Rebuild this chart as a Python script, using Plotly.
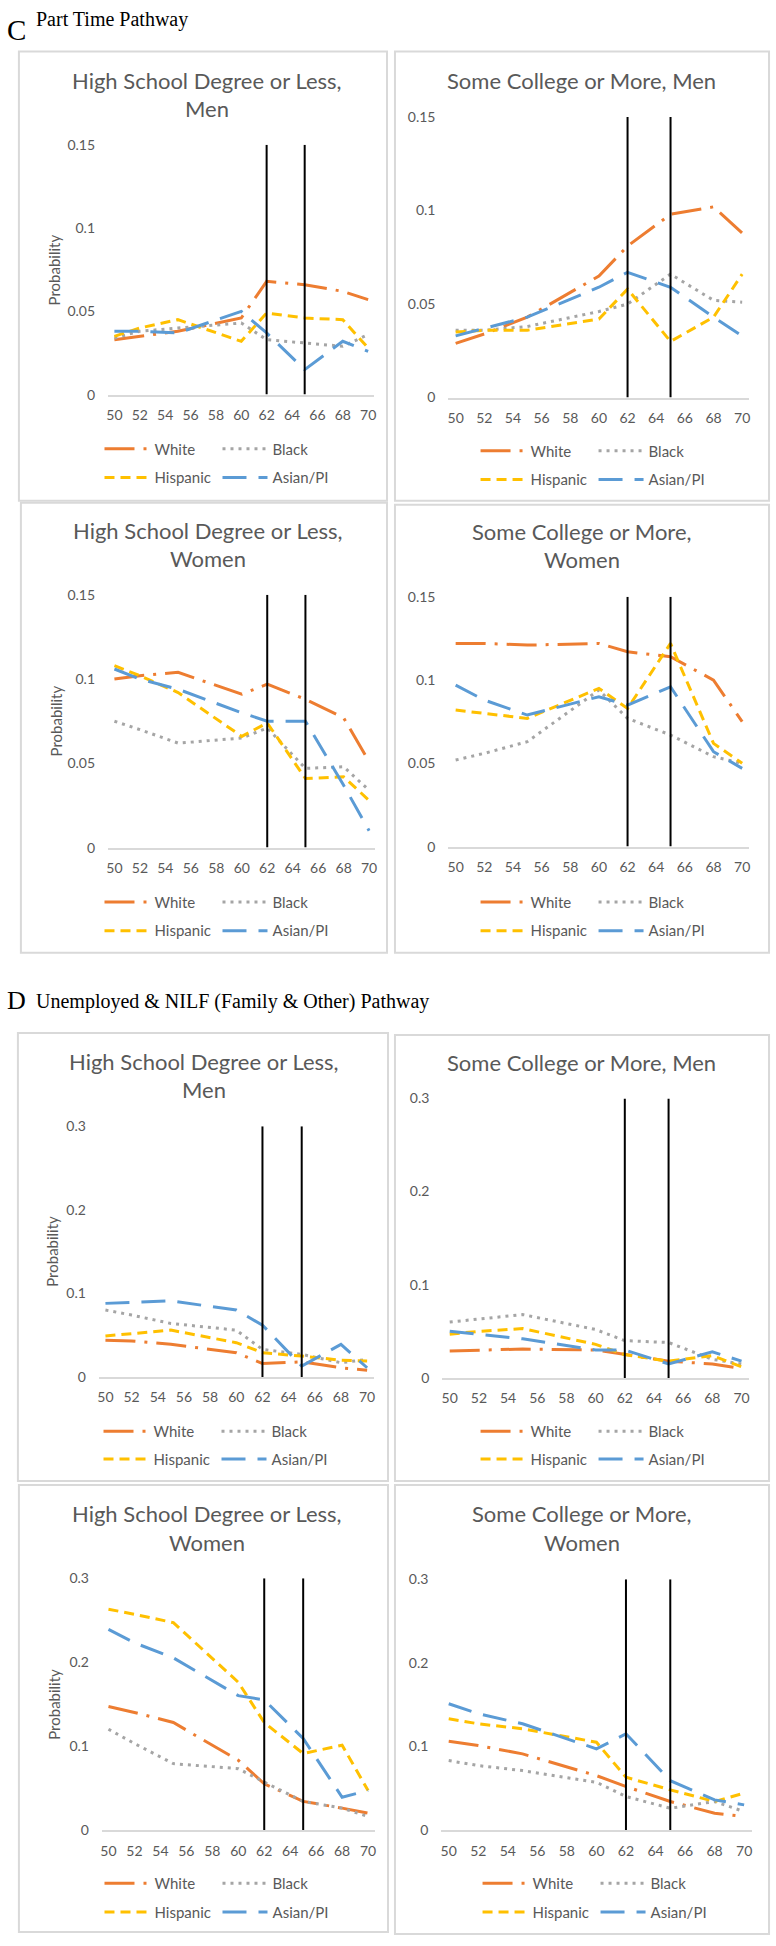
import plotly.graph_objects as go

# Ages at which the probabilities were estimated
ages = [50, 52, 55, 60, 62, 65, 68, 70]
races = ["White", "Black", "Hispanic", "Asian/PI"]
reference_ages = [62, 65]

# C: Part Time Pathway
c_hs_men = {
    "White": [0.033, 0.035, 0.038, 0.046, 0.068, 0.066, 0.062, 0.057],
    "Black": [0.034, 0.038, 0.040, 0.043, 0.033, 0.031, 0.029, 0.036],
    "Hispanic": [0.035, 0.040, 0.045, 0.032, 0.049, 0.046, 0.045, 0.028],
    "Asian/PI": [0.038, 0.038, 0.037, 0.050, 0.037, 0.015, 0.032, 0.026],
}
c_sc_men = {
    "White": [0.029, 0.034, 0.043, 0.065, 0.081, 0.098, 0.102, 0.088],
    "Black": [0.036, 0.036, 0.038, 0.046, 0.050, 0.066, 0.052, 0.051],
    "Hispanic": [0.035, 0.036, 0.036, 0.042, 0.058, 0.030, 0.043, 0.066],
    "Asian/PI": [0.033, 0.037, 0.043, 0.059, 0.067, 0.059, 0.043, 0.033],
}
c_hs_women = {
    "White": [0.100, 0.102, 0.104, 0.091, 0.097, 0.088, 0.077, 0.051],
    "Black": [0.075, 0.070, 0.062, 0.065, 0.071, 0.047, 0.048, 0.034],
    "Hispanic": [0.108, 0.102, 0.092, 0.066, 0.074, 0.041, 0.042, 0.028],
    "Asian/PI": [0.106, 0.100, 0.094, 0.080, 0.075, 0.075, 0.037, 0.010],
}
c_sc_women = {
    "White": [0.122, 0.122, 0.121, 0.122, 0.117, 0.114, 0.100, 0.075],
    "Black": [0.052, 0.056, 0.063, 0.094, 0.077, 0.067, 0.054, 0.050],
    "Hispanic": [0.082, 0.080, 0.077, 0.095, 0.083, 0.122, 0.062, 0.050],
    "Asian/PI": [0.097, 0.088, 0.079, 0.090, 0.085, 0.096, 0.057, 0.047],
}

# D: Unemployed & NILF (Family & Other) Pathway
d_hs_men = {
    "White": [0.044, 0.043, 0.039, 0.029, 0.016, 0.018, 0.011, 0.008],
    "Black": [0.080, 0.074, 0.064, 0.056, 0.033, 0.027, 0.017, 0.021],
    "Hispanic": [0.049, 0.052, 0.056, 0.041, 0.029, 0.025, 0.020, 0.019],
    "Asian/PI": [0.088, 0.089, 0.091, 0.080, 0.062, 0.013, 0.039, 0.011],
}
d_sc_men = {
    "White": [0.029, 0.030, 0.031, 0.030, 0.025, 0.018, 0.015, 0.010],
    "Black": [0.060, 0.063, 0.068, 0.052, 0.040, 0.038, 0.020, 0.015],
    "Hispanic": [0.047, 0.050, 0.053, 0.036, 0.025, 0.018, 0.024, 0.012],
    "Asian/PI": [0.050, 0.047, 0.042, 0.030, 0.030, 0.015, 0.028, 0.018],
}
d_hs_women = {
    "White": [0.147, 0.140, 0.128, 0.083, 0.055, 0.034, 0.026, 0.020],
    "Black": [0.120, 0.103, 0.079, 0.073, 0.057, 0.034, 0.026, 0.016],
    "Hispanic": [0.263, 0.257, 0.247, 0.176, 0.128, 0.091, 0.101, 0.047],
    "Asian/PI": [0.239, 0.223, 0.205, 0.160, 0.155, 0.109, 0.039, 0.047],
}
d_sc_women = {
    "White": [0.106, 0.101, 0.091, 0.065, 0.052, 0.034, 0.020, 0.016],
    "Black": [0.083, 0.077, 0.071, 0.057, 0.040, 0.026, 0.034, 0.022],
    "Hispanic": [0.133, 0.127, 0.121, 0.105, 0.063, 0.048, 0.034, 0.044],
    "Asian/PI": [0.151, 0.139, 0.127, 0.097, 0.115, 0.059, 0.036, 0.030],
}

W, H = 776, 1946
TEXT = "#595959"
BORDER = "#D9D9D9"
FONT = "Lato, 'Open Sans', sans-serif"
SERIF = "'Liberation Serif', 'DejaVu Serif', serif"


def fx(p):
    return p / W


def fy(p):
    return 1 - p / H


styles = {
    "White": dict(color="#ED7D31", dash="30px,9px,3px,9px"),
    "Black": dict(color="#A5A5A5", dash="3px,5px"),
    "Hispanic": dict(color="#FFC000", dash="10px,6px"),
    "Asian/PI": dict(color="#5B9BD5", dash="24px,12px"),
}

# layout of each panel in page pixels: box, plot area (l, t, r, b), titles, legend rows
panels = [
    dict(data=c_hs_men, ymax=0.15, dtick=0.05,
         title=["High School Degree or Less,", "Men"], title_y=[72, 100], title_x=206,
         box=(17, 43, 387, 496), plot=(106.6, 137, 374.4, 389),
         leg_x=103, leg_y=(444, 473), ylab=(52, 263)),
    dict(data=c_sc_men, ymax=0.15, dtick=0.05,
         title=["Some College or More, Men"], title_y=[72], title_x=583,
         box=(395, 43, 771, 496), plot=(448.8, 109, 751.2, 392),
         leg_x=481, leg_y=(446, 475), ylab=None),
    dict(data=c_hs_women, ymax=0.15, dtick=0.05,
         title=["High School Degree or Less,", "Women"], title_y=[526, 554], title_x=207,
         box=(19, 498, 387, 952), plot=(106.6, 591, 375.4, 846),
         leg_x=103, leg_y=(901, 930), ylab=(54, 718)),
    dict(data=c_sc_women, ymax=0.15, dtick=0.05,
         title=["Some College or More,", "Women"], title_y=[527, 555], title_x=583,
         box=(395, 500, 771, 952), plot=(448.8, 593, 751.2, 845),
         leg_x=481, leg_y=(901, 930), ylab=None),
    dict(data=d_hs_men, ymax=0.3, dtick=0.1,
         title=["High School Degree or Less,", "Men"], title_y=[1062, 1090], title_x=203,
         box=(16, 1033, 388, 1485), plot=(97.4, 1127, 373.6, 1380),
         leg_x=102, leg_y=(1435, 1463), ylab=(50, 1253)),
    dict(data=d_sc_men, ymax=0.3, dtick=0.1,
         title=["Some College or More, Men"], title_y=[1063], title_x=583,
         box=(395, 1035, 771, 1485), plot=(442.7, 1099, 750.7, 1381),
         leg_x=481, leg_y=(1435, 1463), ylab=None),
    dict(data=d_hs_women, ymax=0.3, dtick=0.1,
         title=["High School Degree or Less,", "Women"], title_y=[1518, 1547], title_x=206,
         box=(17, 1489, 388, 1940), plot=(100.5, 1583, 374.5, 1837),
         leg_x=103, leg_y=(1891, 1920), ylab=(52, 1710)),
    dict(data=d_sc_women, ymax=0.3, dtick=0.1,
         title=["Some College or More,", "Women"], title_y=[1518, 1547], title_x=583,
         box=(395, 1489, 771, 1942), plot=(441.6, 1584, 753.4, 1837),
         leg_x=483, leg_y=(1891, 1920), ylab=None),
]

fig = go.Figure()
shapes = []
annotations = []
layout = {}

for i, p in enumerate(panels, start=1):
    sfx = "" if i == 1 else str(i)
    xa, ya = "x" + sfx, "y" + sfx
    leg_top = "legend" if i == 1 else f"legend{2 * i - 1}"
    leg_bot = f"legend{2 * i}"

    for race in races:
        st = styles[race]
        fig.add_trace(go.Scatter(
            x=ages, y=p["data"][race], mode="lines", name=race,
            line=dict(color=st["color"], dash=st["dash"], width=3),
            xaxis=xa, yaxis=ya,
            legend=leg_top if race in ("White", "Black") else leg_bot,
            hoverinfo="skip",
        ))

    l, t, r, b = p["plot"]
    layout["xaxis" + sfx] = dict(
        domain=[fx(l), fx(r)], range=[49.5, 70.5], anchor=ya,
        tickmode="linear", tick0=50, dtick=2,
        showgrid=False, zeroline=False, showline=True,
        linecolor=BORDER, linewidth=1.5, ticks="",
        tickfont=dict(size=14, color=TEXT), ticklabelstandoff=7,
    )
    layout["yaxis" + sfx] = dict(
        domain=[fy(b), fy(t)], range=[0, p["ymax"]], anchor=xa,
        tickmode="linear", tick0=0, dtick=p["dtick"],
        showgrid=False, zeroline=False, showline=False, ticks="",
        tickfont=dict(size=14, color=TEXT), ticklabelstandoff=12,
    )

    for age in reference_ages:
        shapes.append(dict(type="line", xref=xa, yref=ya, x0=age, x1=age,
                           y0=0, y1=p["ymax"], line=dict(color="black", width=2)))

    bl, bt, br, bb = p["box"]
    shapes.append(dict(type="rect", xref="paper", yref="paper",
                       x0=fx(bl), x1=fx(br), y0=fy(bb), y1=fy(bt),
                       line=dict(color=BORDER, width=2), layer="below"))

    for line_text, ty in zip(p["title"], p["title_y"]):
        annotations.append(dict(text=line_text, x=fx(p["title_x"]), y=fy(ty),
                                xref="paper", yref="paper", showarrow=False,
                                xanchor="center", yanchor="middle",
                                font=dict(size=22, color=TEXT)))

    if p["ylab"]:
        annotations.append(dict(text="Probability", x=fx(p["ylab"][0]), y=fy(p["ylab"][1]),
                                xref="paper", yref="paper", showarrow=False, textangle=-90,
                                xanchor="center", yanchor="middle",
                                font=dict(size=15, color=TEXT)))

    for name, row_y in ((leg_top, p["leg_y"][0]), (leg_bot, p["leg_y"][1])):
        layout[name] = dict(
            orientation="h", x=fx(p["leg_x"] - 5), xanchor="left",
            y=fy(row_y), yanchor="middle",
            itemwidth=45, entrywidth=58, entrywidthmode="pixels",
            font=dict(size=15, color=TEXT), bgcolor="rgba(0,0,0,0)",
            itemclick=False, itemdoubleclick=False,
        )

# section headers
headers = [("C", "Part Time Pathway", 21, 11),
           ("D", "Unemployed & NILF (Family & Other) Pathway", 1000, 1001)]
for letter, text, ly, ty in headers:
    annotations.append(dict(text=letter, x=fx(3), y=fy(ly), xref="paper", yref="paper",
                            showarrow=False, xanchor="left", yanchor="middle",
                            font=dict(family=SERIF, size=29 if letter == "C" else 26, color="black")))
    annotations.append(dict(text=text, x=fx(32), y=fy(ty), xref="paper", yref="paper",
                            showarrow=False, xanchor="left", yanchor="middle",
                            font=dict(family=SERIF, size=20, color="black")))

fig.update_layout(
    width=W, height=H,
    margin=dict(l=0, r=0, t=0, b=0),
    paper_bgcolor="white", plot_bgcolor="white",
    font=dict(family=FONT, color=TEXT),
    showlegend=True,
    shapes=shapes, annotations=annotations,
    **layout,
)

# the page body has a default 8px margin; remove it so the figure fills the window
fig.write_html("out.html", config={"displayModeBar": False},
               post_script="document.body.style.margin='0';")
